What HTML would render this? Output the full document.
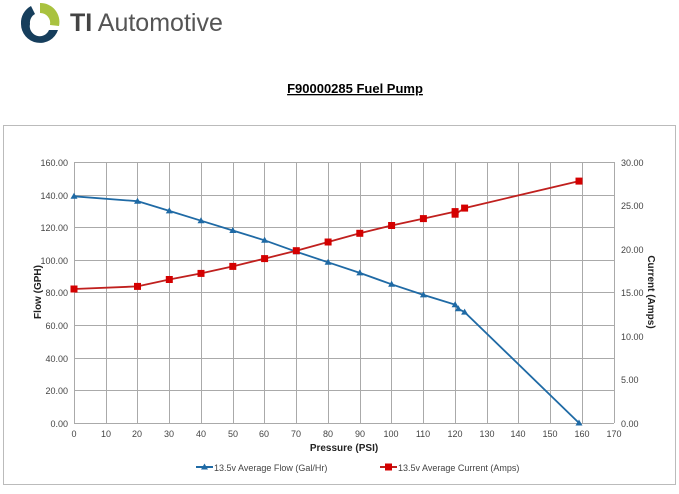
<!DOCTYPE html>
<html><head><meta charset="utf-8"><style>
html,body{margin:0;padding:0;background:#fff;}
body{width:679px;height:489px;overflow:hidden;font-family:"Liberation Sans",sans-serif;}
</style></head><body>
<svg width="679" height="489" viewBox="0 0 679 489" xmlns="http://www.w3.org/2000/svg" font-family="Liberation Sans, sans-serif">
<g>
<path d="M40 3 A19 19 0 0 1 59 26 L50 25 A10 10 0 0 0 40 13 Z" fill="#a9c23f"/>
<path d="M58 30 A19 19 0 0 1 21 24 A19 19 0 0 1 31 6 L35 14 A10 10 0 0 0 30 24 A10 10 0 0 0 49 30 Z" fill="#163e5c"/>
</g>
<text x="70" y="31" font-size="25" fill="#555"><tspan font-weight="bold" fill="#444">TI</tspan> Automotive</text>
<text x="355" y="93" font-size="13" font-weight="bold" text-anchor="middle" text-decoration="underline" fill="#000">F90000285 Fuel Pump</text>
<rect x="3.5" y="125.5" width="672" height="359" fill="#fff" stroke="#bbb"/>
<g stroke="#aaa" stroke-width="1">
<line x1="74" y1="162.5" x2="614" y2="162.5"/><line x1="74" y1="195.5" x2="614" y2="195.5"/><line x1="74" y1="227.5" x2="614" y2="227.5"/><line x1="74" y1="260.5" x2="614" y2="260.5"/><line x1="74" y1="292.5" x2="614" y2="292.5"/><line x1="74" y1="325.5" x2="614" y2="325.5"/><line x1="74" y1="358.5" x2="614" y2="358.5"/><line x1="74" y1="390.5" x2="614" y2="390.5"/><line x1="74" y1="423.5" x2="614" y2="423.5"/>
<line x1="74.5" y1="162" x2="74.5" y2="423"/><line x1="106.5" y1="162" x2="106.5" y2="423"/><line x1="137.5" y1="162" x2="137.5" y2="423"/><line x1="169.5" y1="162" x2="169.5" y2="423"/><line x1="201.5" y1="162" x2="201.5" y2="423"/><line x1="233.5" y1="162" x2="233.5" y2="423"/><line x1="264.5" y1="162" x2="264.5" y2="423"/><line x1="296.5" y1="162" x2="296.5" y2="423"/><line x1="328.5" y1="162" x2="328.5" y2="423"/><line x1="360.5" y1="162" x2="360.5" y2="423"/><line x1="391.5" y1="162" x2="391.5" y2="423"/><line x1="423.5" y1="162" x2="423.5" y2="423"/><line x1="455.5" y1="162" x2="455.5" y2="423"/><line x1="487.5" y1="162" x2="487.5" y2="423"/><line x1="518.5" y1="162" x2="518.5" y2="423"/><line x1="550.5" y1="162" x2="550.5" y2="423"/><line x1="582.5" y1="162" x2="582.5" y2="423"/><line x1="614.5" y1="162" x2="614.5" y2="423"/>
</g>
<g font-size="9" fill="#444" text-anchor="end">
<text x="68" y="166">160.00</text><text x="68" y="199">140.00</text><text x="68" y="231">120.00</text><text x="68" y="264">100.00</text><text x="68" y="296">80.00</text><text x="68" y="329">60.00</text><text x="68" y="362">40.00</text><text x="68" y="394">20.00</text><text x="68" y="427">0.00</text>
</g>
<g font-size="9" fill="#444">
<text x="621" y="166">30.00</text><text x="621" y="209">25.00</text><text x="621" y="253">20.00</text><text x="621" y="296">15.00</text><text x="621" y="340">10.00</text><text x="621" y="383">5.00</text><text x="621" y="427">0.00</text>
</g>
<g font-size="9" fill="#444" text-anchor="middle">
<text x="74" y="437">0</text><text x="106" y="437">10</text><text x="137" y="437">20</text><text x="169" y="437">30</text><text x="201" y="437">40</text><text x="233" y="437">50</text><text x="264" y="437">60</text><text x="296" y="437">70</text><text x="328" y="437">80</text><text x="360" y="437">90</text><text x="391" y="437">100</text><text x="423" y="437">110</text><text x="455" y="437">120</text><text x="487" y="437">130</text><text x="518" y="437">140</text><text x="550" y="437">150</text><text x="582" y="437">160</text><text x="614" y="437">170</text>
</g>
<text x="344" y="451" font-size="10" font-weight="bold" fill="#222" text-anchor="middle">Pressure (PSI)</text>
<text transform="translate(41,292) rotate(-90)" font-size="10" font-weight="bold" fill="#222" text-anchor="middle">Flow (GPH)</text>
<text transform="translate(648,292) rotate(90)" font-size="10" font-weight="bold" fill="#222" text-anchor="middle">Current (Amps)</text>
<polyline fill="none" stroke="#1f6aa5" stroke-width="1.8" points="74,196.3 137.5,201.2 169.3,210.9 201,220.7 232.8,230.5 264.6,240.3 296.3,251.7 328.1,262.3 359.8,272.9 391.6,284.3 423.4,294.9 455.1,304.7 458.3,308.8 464.6,312.1 579,423"/>
<g fill="#1f6aa5">
<path d="M74,192.8 l3.5,6 h-7z"/><path d="M137.5,197.7 l3.5,6 h-7z"/><path d="M169.3,207.4 l3.5,6 h-7z"/><path d="M201,217.2 l3.5,6 h-7z"/><path d="M232.8,227 l3.5,6 h-7z"/><path d="M264.6,236.8 l3.5,6 h-7z"/><path d="M296.3,248.2 l3.5,6 h-7z"/><path d="M328.1,258.8 l3.5,6 h-7z"/><path d="M359.8,269.4 l3.5,6 h-7z"/><path d="M391.6,280.8 l3.5,6 h-7z"/><path d="M423.4,291.4 l3.5,6 h-7z"/><path d="M455.1,301.2 l3.5,6 h-7z"/><path d="M458.3,305.3 l3.5,6 h-7z"/><path d="M464.6,308.6 l3.5,6 h-7z"/><path d="M579,419.5 l3.5,6 h-7z"/>
</g>
<polyline fill="none" stroke="#c0201e" stroke-width="1.8" points="74,289 137.5,286.4 169.3,279.5 201,273.4 232.8,266.4 264.6,258.6 296.3,250.7 328.1,242 359.8,233.3 391.6,225.5 423.4,218.6 455.1,211.6 455.1,214.2 464.6,208.1 579,181.1"/>
<g fill="#d40000">
<rect x="70.5" y="285.5" width="7" height="7"/><rect x="134" y="282.9" width="7" height="7"/><rect x="165.8" y="276" width="7" height="7"/><rect x="197.5" y="269.9" width="7" height="7"/><rect x="229.3" y="262.9" width="7" height="7"/><rect x="261.1" y="255.1" width="7" height="7"/><rect x="292.8" y="247.2" width="7" height="7"/><rect x="324.6" y="238.5" width="7" height="7"/><rect x="356.3" y="229.8" width="7" height="7"/><rect x="388.1" y="222" width="7" height="7"/><rect x="419.9" y="215.1" width="7" height="7"/><rect x="451.6" y="208.1" width="7" height="7"/><rect x="451.6" y="210.7" width="7" height="7"/><rect x="461.1" y="204.6" width="7" height="7"/><rect x="575.5" y="177.6" width="7" height="7"/>
</g>
<line x1="196" y1="467" x2="213" y2="467" stroke="#1f6aa5" stroke-width="2"/><path d="M204.5,463.5 l3.5,6 h-7z" fill="#1f6aa5"/>
<text x="214" y="471" font-size="9" fill="#444">13.5v Average Flow (Gal/Hr)</text>
<line x1="380" y1="467" x2="397" y2="467" stroke="#c0201e" stroke-width="2"/><rect x="385" y="463.5" width="7" height="7" fill="#d40000"/>
<text x="398" y="471" font-size="9" fill="#444">13.5v Average Current (Amps)</text>
</svg>
</body></html>
